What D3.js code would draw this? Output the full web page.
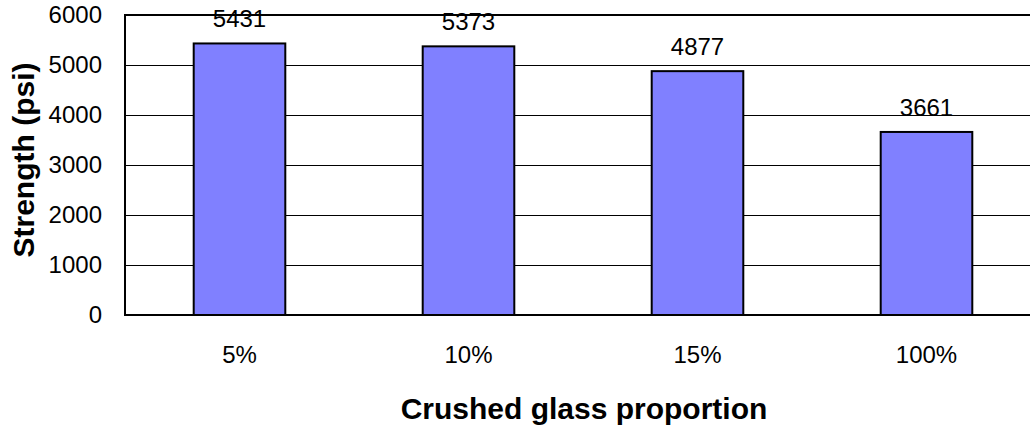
<!DOCTYPE html>
<html>
<head>
<meta charset="utf-8">
<script src="https://cdn.jsdelivr.net/npm/d3@7"></script>
<style>
  html, body { margin: 0; padding: 0; background: #fff; }
  svg { display: block; }
  text { font-family: Arial, "Liberation Sans", sans-serif; fill: #000; }
</style>
</head>
<body>
<svg id="chart" width="1030" height="427"></svg>
<script>
const categories = ["5%", "10%", "15%", "100%"];
const strengths = [5431, 5373, 4877, 3661];
const yTicks = [0, 1000, 2000, 3000, 4000, 5000, 6000];
const xTitle = "Crushed glass proportion";
const yTitle = "Strength (psi)";

const svg = d3.select("#chart");
const plot = { left: 125, top: 15, right: 1041, bottom: 315 };
const FONT = "Arial, 'Liberation Sans', sans-serif";

const x = d3.scaleBand()
  .domain(categories)
  .range([plot.left, plot.right])
  .paddingInner(0.6)
  .paddingOuter(0.3);

const y = d3.scaleLinear()
  .domain([0, 6000])
  .range([plot.bottom, plot.top]);

// gridlines
svg.append("g")
  .selectAll("line")
  .data(yTicks.filter(t => t > 0 && t < 6000))
  .join("line")
  .attr("x1", plot.left).attr("x2", plot.right)
  .attr("y1", d => y(d) + 0.5).attr("y2", d => y(d) + 0.5)
  .attr("stroke", "#000").attr("stroke-width", 1);

// plot frame
svg.append("rect")
  .attr("x", plot.left).attr("y", plot.top)
  .attr("width", plot.right - plot.left).attr("height", plot.bottom - plot.top)
  .attr("fill", "none").attr("stroke", "#000").attr("stroke-width", 2);

// bars
svg.append("g")
  .selectAll("rect")
  .data(strengths)
  .join("rect")
  .attr("x", (d, i) => x(categories[i]))
  .attr("y", d => y(d))
  .attr("width", x.bandwidth())
  .attr("height", d => y(0) - y(d))
  .attr("fill", "#8080FF")
  .attr("stroke", "#000").attr("stroke-width", 2);

// value labels
svg.append("g")
  .selectAll("text")
  .data(strengths)
  .join("text")
  .attr("x", (d, i) => x(categories[i]) + x.bandwidth() / 2)
  .attr("y", d => y(d) - 16)
  .attr("text-anchor", "middle")
  .attr("font-size", "24px")
  .text(d => d);

// y axis labels (no tick marks)
const yAxis = d3.axisLeft(y).tickValues(yTicks).tickSize(0).tickPadding(23).tickFormat(d3.format("d"));
const yg = svg.append("g").attr("transform", `translate(${plot.left},0)`).call(yAxis);
yg.select(".domain").remove();
yg.selectAll("text").attr("font-size", "24px").attr("font-family", FONT).attr("fill", "#000");

// x axis labels
const xAxis = d3.axisBottom(x).tickSize(0).tickPadding(31);
const xg = svg.append("g").attr("transform", `translate(0,${plot.bottom})`).call(xAxis);
xg.select(".domain").remove();
xg.selectAll("text").attr("font-size", "24px").attr("font-family", FONT).attr("fill", "#000");

// titles
svg.append("text")
  .attr("x", 584).attr("y", 419)
  .attr("text-anchor", "middle")
  .attr("font-size", "30px").attr("font-weight", "bold")
  .text(xTitle);

svg.append("text")
  .attr("transform", "translate(34,160) rotate(-90)")
  .attr("text-anchor", "middle")
  .attr("font-size", "30px").attr("font-weight", "bold")
  .text(yTitle);
</script>
</body>
</html>
